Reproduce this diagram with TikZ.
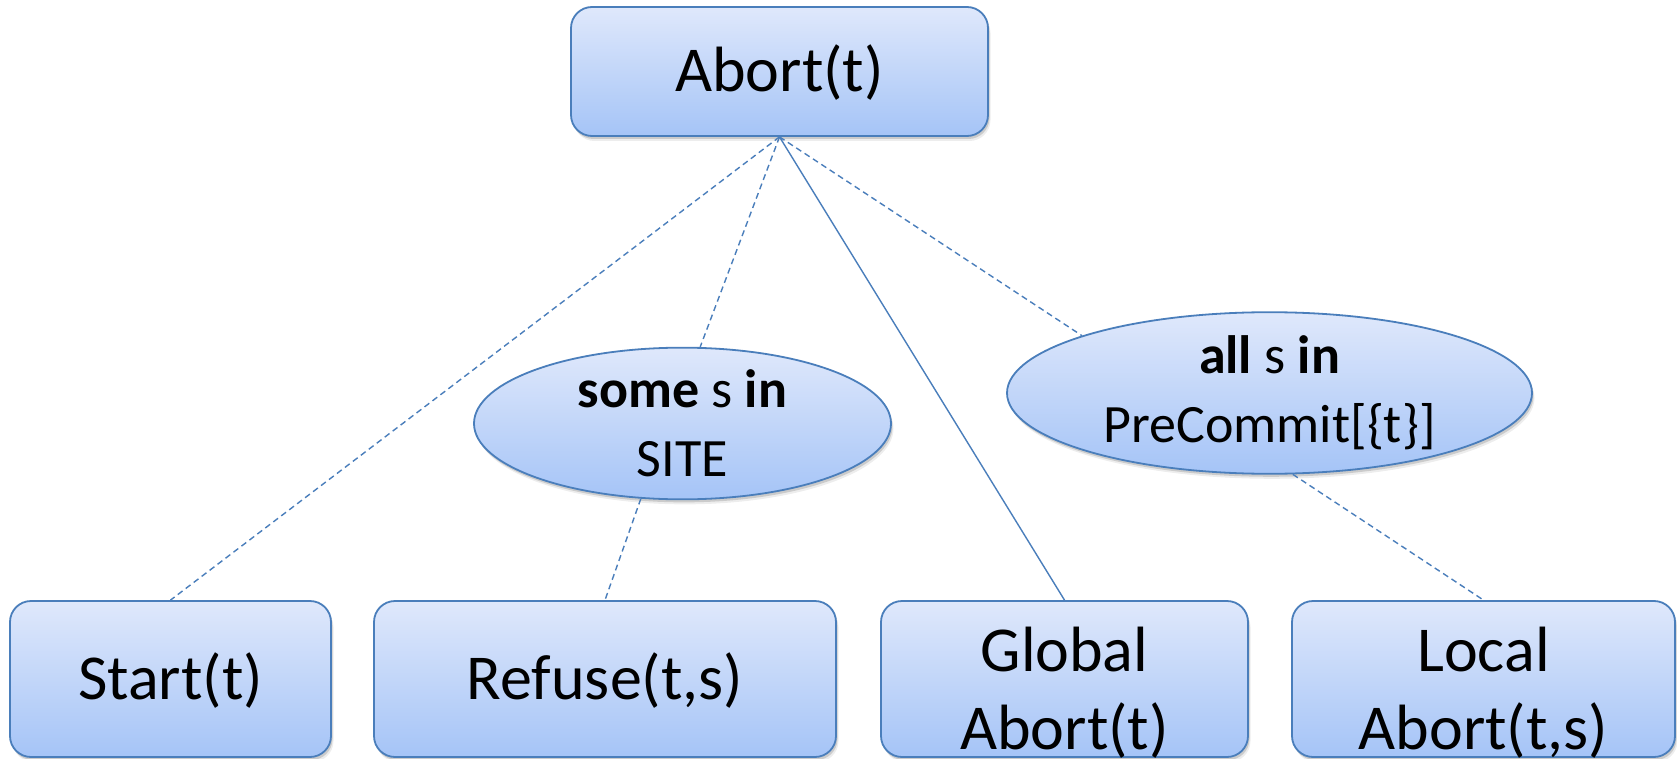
\documentclass[tikz,border=0pt]{standalone}
\usepackage{fontspec}
\setmainfont{Carlito}
\usetikzlibrary{shapes.geometric,shadows}

\definecolor{edgeblue}{HTML}{4A7EBB}
\definecolor{filltop}{HTML}{DFE8FB}
\definecolor{fillbot}{HTML}{A5C4F7}

% two centred lines, lowered a little inside their box
\newcommand\twolines[2]{\raisebox{-16pt}[\height][\depth]{\begin{tabular}{@{}c@{}}#1\\#2\end{tabular}}}

\begin{document}
\begin{tikzpicture}[x=1pt,y=-1pt,
  softshadow/.style={
    drop shadow={shadow xshift=1.5pt,shadow yshift=-3pt,opacity=.14,fill=black},
    drop shadow={shadow xshift=2.5pt,shadow yshift=-5pt,opacity=.07,fill=black}},
  gradfill/.style={top color=filltop,bottom color=fillbot,draw=edgeblue,line width=1.8pt},
  predbox/.style={rectangle,rounded corners=21pt,gradfill,softshadow,inner sep=0pt,
    font=\fontsize{64}{78}\selectfont},
  oneline/.style={text height=41pt,text depth=0pt},
  quant/.style={ellipse,gradfill,softshadow,inner sep=0pt,align=center,
    font=\fontsize{54}{69}\selectfont},
  link/.style={draw=edgeblue,line width=1.4pt},
  dashlink/.style={link,dash pattern=on 6pt off 4pt}
]
\useasboundingbox (0,0) rectangle (1677,759);
\fill[white] (0,0) rectangle (1677,759);

% predicate boxes
\node[predbox,oneline,minimum width=417pt,minimum height=129pt] (abort) at (779.5,71.5) {Abort(t)};
\node[predbox,oneline,minimum width=321pt,minimum height=156pt] (start) at (170.5,679) {Start(t)};
\node[predbox,oneline,minimum width=462pt,minimum height=156pt] (refuse) at (605,679) {Refuse(t,s)};
\node[predbox,minimum width=367pt,minimum height=156pt] (global) at (1064.5,679) {\twolines{Global}{Abort(t)}};
\node[predbox,minimum width=383pt,minimum height=156pt] (local) at (1483.5,679) {\twolines{Local}{Abort(t,s)}};

% quantifier ellipses
\node[quant,minimum width=417pt,minimum height=129pt] (some) at (682.5,423.5) {\textbf{some} s \textbf{in}\\SITE};
\node[quant,minimum width=525pt,minimum height=158pt] (all) at (1269.5,393) {\textbf{all} s \textbf{in}\\PreCommit[\{t\}]};

% connectors
\draw[dashlink] (abort.south) -- (start.north);
\draw[dashlink] (abort.south) -- (some.77);
\draw[dashlink] (some.-119) -- (refuse.north);
\draw[link] (abort.south) -- (global.north);
\draw[dashlink] (abort.south) -- (all.163);
\draw[dashlink] (all.-74) -- (local.north);
\end{tikzpicture}
\end{document}
